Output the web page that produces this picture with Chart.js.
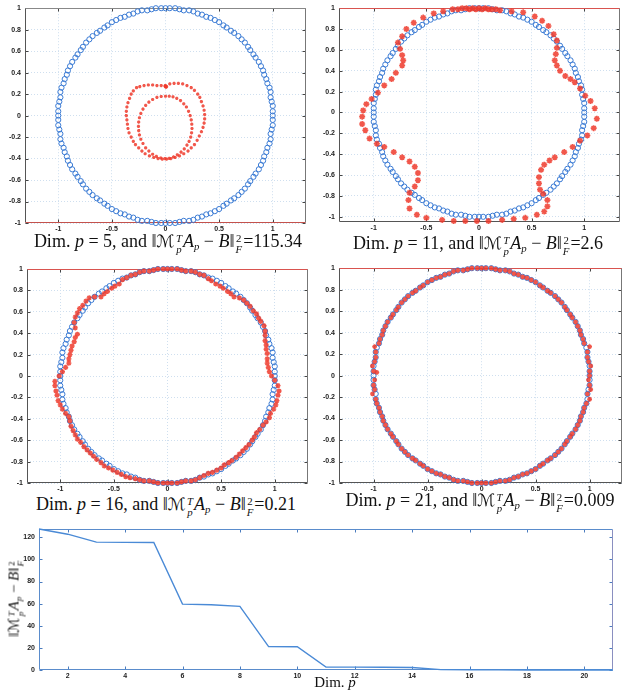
<!DOCTYPE html>
<html>
<head>
<meta charset="utf-8">
<title>Dim. p</title>
<script src="https://cdn.jsdelivr.net/npm/chart.js"></script>
<style>
  body { margin: 0; background: #fff; width: 634px; height: 692px; position: relative; overflow: hidden;
         font-family: "Liberation Serif", "DejaVu Serif", serif; color: #111; }
  canvas { position: absolute; }
  .cap { position: absolute; width: 340px; font-size: 18px; line-height: 20px; text-align: center; white-space: nowrap; }
  .cal { font-family: "DejaVu Serif", "DejaVu Sans", serif; font-size: .95em; }
  .ss { display: inline-flex; flex-direction: column; font-size: .6em; line-height: 1; vertical-align: .45em; margin: 0 1px; }
  sub { font-size: .6em; vertical-align: -.3em; line-height: 0; }
  .ylab { position: absolute; left: -40px; top: 588px; width: 110px; text-align: center; font-size: 15px; line-height: 18px;
          transform: rotate(-90deg); white-space: nowrap; }
  .xlab { position: absolute; left: 285px; top: 674px; width: 100px; text-align: center; font-size: 15px; }
</style>
</head>
<body>
  <canvas id="p5" width="312" height="232" style="left:0;top:0"></canvas>
  <canvas id="p11" width="309" height="231" style="left:317px;top:0"></canvas>
  <canvas id="p16" width="314" height="232" style="left:0;top:260px"></canvas>
  <canvas id="p21" width="311" height="232" style="left:317px;top:260px"></canvas>
  <canvas id="err" width="619" height="160" style="left:0;top:520px"></canvas>

  <div class="cap" style="left:-2px;top:231px">Dim. <i>p</i> = 5, and ‖<i class="cal">ℳ</i><span class="ss"><i>T</i><i>p</i></span><i>A</i><sub><i>p</i></sub> − <i>B</i>‖<span class="ss"><span>2</span><i>F</i></span>=115.34</div>
  <div class="cap" style="left:308px;top:233px">Dim. <i>p</i> = 11, and ‖<i class="cal">ℳ</i><span class="ss"><i>T</i><i>p</i></span><i>A</i><sub><i>p</i></sub> − <i>B</i>‖<span class="ss"><span>2</span><i>F</i></span>=2.6</div>
  <div class="cap" style="left:-4px;top:494px">Dim. <i>p</i> = 16, and ‖<i class="cal">ℳ</i><span class="ss"><i>T</i><i>p</i></span><i>A</i><sub><i>p</i></sub> − <i>B</i>‖<span class="ss"><span>2</span><i>F</i></span>=0.21</div>
  <div class="cap" style="left:310px;top:490px">Dim. <i>p</i> = 21, and ‖<i class="cal">ℳ</i><span class="ss"><i>T</i><i>p</i></span><i>A</i><sub><i>p</i></sub> − <i>B</i>‖<span class="ss"><span>2</span><i>F</i></span>=0.009</div>
  <div class="ylab">‖<i class="cal">ℳ</i><span class="ss"><i>T</i><i>p</i></span><i>A</i><sub><i>p</i></sub> − <i>B</i>‖<span class="ss"><span>2</span><i>F</i></span></div>
  <div class="xlab">Dim. <i>p</i></div>

<script>
// target points (blue circles), same in all four panels
const circleX = [1,1,1,.99,.98,.98,.97,.95,.94,.92,.91,.89,.87,.84,.82,.79,.77,.74,.71,.68,.64,.61,.57,.54,.5,.46,.42,.38,.34,.3,.26,.22,.17,.13,.09,.04,
  0,-.04,-.09,-.13,-.17,-.22,-.26,-.3,-.34,-.38,-.42,-.46,-.5,-.54,-.57,-.61,-.64,-.68,-.71,-.74,-.77,-.79,-.82,-.84,-.87,-.89,-.91,-.92,-.94,-.95,-.97,-.98,-.98,-.99,-1,-1,
  -1,-1,-1,-.99,-.98,-.98,-.97,-.95,-.94,-.92,-.91,-.89,-.87,-.84,-.82,-.79,-.77,-.74,-.71,-.68,-.64,-.61,-.57,-.54,-.5,-.46,-.42,-.38,-.34,-.3,-.26,-.22,-.17,-.13,-.09,-.04,
  0,.04,.09,.13,.17,.22,.26,.3,.34,.38,.42,.46,.5,.54,.57,.61,.64,.68,.71,.74,.77,.79,.82,.84,.87,.89,.91,.92,.94,.95,.97,.98,.98,.99,1,1];
const circleY = [0,.04,.09,.13,.17,.22,.26,.3,.34,.38,.42,.46,.5,.54,.57,.61,.64,.68,.71,.74,.77,.79,.82,.84,.87,.89,.91,.92,.94,.95,.97,.98,.98,.99,1,1,
  1,1,1,.99,.98,.98,.97,.95,.94,.92,.91,.89,.87,.84,.82,.79,.77,.74,.71,.68,.64,.61,.57,.54,.5,.46,.42,.38,.34,.3,.26,.22,.17,.13,.09,.04,
  0,-.04,-.09,-.13,-.17,-.22,-.26,-.3,-.34,-.38,-.42,-.46,-.5,-.54,-.57,-.61,-.64,-.68,-.71,-.74,-.77,-.79,-.82,-.84,-.87,-.89,-.91,-.92,-.94,-.95,-.97,-.98,-.98,-.99,-1,-1,
  -1,-1,-1,-.99,-.98,-.98,-.97,-.95,-.94,-.92,-.91,-.89,-.87,-.84,-.82,-.79,-.77,-.74,-.71,-.68,-.64,-.61,-.57,-.54,-.5,-.46,-.42,-.38,-.34,-.3,-.26,-.22,-.17,-.13,-.09,-.04];

// reconstructions (red stars), p = 5
const red5X = [0,-.04,-.08,-.12,-.16,-.2,-.24,
  -.27,-.3,-.32,-.335,-.35,-.36,-.365,-.365,-.36,-.355,-.35,-.34,-.32,-.3,-.28,-.25,-.22,-.19,-.15,-.11,-.07,-.03,
  .01,.05,.09,.13,.17,.21,.24,.27,.295,.315,.335,.35,.36,.365,.365,.36,.35,.335,.32,.3,.27,.24,.2,.16,.12,.08,.04,
  0,-.04,-.08,-.12,-.155,-.185,-.21,-.23,-.243,-.25,-.252,-.25,-.243,-.23,-.21,-.185,-.155,-.12,-.085,-.045,-.005,
  .035,.075,.11,.145,.175,.2,.22,.235,.243,.247,.245,.24,.23,.215,.195,.17,.14,.105,.07,.035,
  0,.005,-.005,.01];
const red5Y = [.28,.28,.28,.285,.285,.28,.27,
  .26,.23,.2,.16,.12,.08,.04,0,-.04,-.08,-.12,-.16,-.2,-.24,-.27,-.3,-.33,-.355,-.375,-.39,-.4,-.405,
  -.405,-.4,-.39,-.375,-.355,-.33,-.3,-.27,-.23,-.19,-.15,-.11,-.07,-.03,.01,.05,.09,.13,.17,.2,.235,.26,.28,.295,.3,.3,.295,
  .18,.178,.17,.15,.125,.095,.06,.02,-.02,-.06,-.1,-.14,-.18,-.22,-.26,-.3,-.33,-.36,-.38,-.395,-.4,
  -.398,-.385,-.365,-.34,-.31,-.275,-.24,-.2,-.16,-.12,-.08,-.04,0,.04,.08,.11,.14,.16,.175,.18,
  .27,.265,.275,.27];

// p = 11
const red11X = [.31,.42,.53,.6,.66,.71,.74,.74,.73,.72,.74,.77,.82,.87,.91,.96,1.01,1.06,1.1,1.12,
  1.09,1.03,.96,.89,.81,.72,.67,.62,.59,.57,.57,.58,.61,.65,.65,.62,.55,.44,.33,.22,
  .09,-.02,-.13,-.24,-.35,-.5,-.59,-.66,-.67,-.66,-.61,-.58,-.58,-.61,-.66,-.73,-.81,-.9,-.97,-1.04,
  -1.08,-1.11,-1.11,-1.1,-1.07,-1.02,-.96,-.9,-.83,-.79,-.73,-.72,-.73,-.75,-.77,-.73,-.69,-.62,-.53,-.43,
  -.34,-.25,-.2,-.16,-.12,-.09,-.06,-.03,0,.03,.06,.09,.12,.16,.2];
const red11Y = [.97,.96,.92,.88,.83,.75,.69,.62,.56,.5,.45,.4,.35,.32,.29,.23,.16,.11,.04,-.06,
  -.15,-.22,-.27,-.33,-.38,-.43,-.46,-.5,-.55,-.62,-.68,-.74,-.78,-.84,-.9,-.95,-.98,-1.01,-1.02,-1.03,
  -1.04,-1.04,-1.04,-1.04,-1.03,-1.01,-.98,-.92,-.84,-.77,-.71,-.65,-.58,-.52,-.47,-.43,-.38,-.33,-.3,-.25,
  -.17,-.11,-.04,.02,.08,.13,.19,.26,.32,.38,.45,.5,.55,.61,.67,.73,.8,.86,.91,.95,
  .97,.99,.99,1,1,.99,1,.99,1,.99,1,.99,.99,.99,.98];

// p = 16
const red16X = [.97,.95,.94,.93,.93,.93,.92,.92,.91,.91,.91,.9,.87,.85,.83,.8,.77,.74,.71,.67,.62,.59,.56,.52,.49,.45,.41,.38,.34,.3,.26,.22,.17,.13,.09,.04,
  0,-.04,-.09,-.13,-.17,-.22,-.26,-.3,-.34,-.38,-.42,-.45,-.49,-.52,-.56,-.59,-.62,-.68,-.73,-.76,-.79,-.82,-.84,-.86,-.87,-.86,-.84,-.86,-.87,-.89,-.9,-.91,-.92,-.92,-.95,-.98,
  -1.01,-1.05,-1.05,-1.04,-1.03,-1.02,-1,-.98,-.95,-.92,-.91,-.9,-.88,-.86,-.84,-.81,-.78,-.75,-.72,-.69,-.66,-.62,-.59,-.55,-.51,-.47,-.43,-.39,-.35,-.3,-.26,-.22,-.17,-.13,-.09,-.04,
  0,.04,.09,.13,.17,.22,.26,.3,.34,.38,.42,.46,.5,.53,.57,.6,.64,.67,.7,.73,.76,.79,.81,.83,.86,.89,.92,.95,.96,.99,1.01,1.02,1.03,1.04,1.03,1];
const red16Y = [0,.04,.08,.12,.16,.21,.25,.29,.33,.38,.42,.47,.51,.54,.58,.61,.65,.68,.71,.73,.74,.77,.79,.82,.84,.86,.89,.91,.94,.95,.97,.98,.98,.99,1,1,
  1,1,1,.99,.98,.98,.97,.95,.94,.92,.9,.86,.84,.82,.79,.77,.74,.74,.73,.7,.66,.63,.59,.55,.5,.45,.39,.36,.32,.28,.24,.2,.16,.12,.08,.04,
  0,-.05,-.09,-.14,-.18,-.23,-.27,-.31,-.35,-.38,-.42,-.47,-.51,-.55,-.59,-.62,-.66,-.69,-.72,-.75,-.78,-.81,-.84,-.86,-.88,-.9,-.92,-.94,-.95,-.96,-.97,-.98,-.98,-.99,-1,-1,
  -1,-1,-1,-.99,-.98,-.98,-.97,-.95,-.93,-.91,-.9,-.88,-.86,-.83,-.81,-.79,-.76,-.73,-.7,-.67,-.64,-.6,-.57,-.53,-.5,-.46,-.43,-.39,-.35,-.31,-.27,-.23,-.18,-.14,-.09,-.04];

// p = 21
const red21X = [1,1,1.01,.99,.98,.98,1,.95,.94,.92,.91,.89,.87,.84,.82,.79,.77,.74,.71,.68,.64,.61,.57,.54,.5,.46,.42,.38,.34,.3,.26,.22,.17,.13,.09,.04,
  0,-.04,-.09,-.13,-.17,-.22,-.26,-.3,-.34,-.38,-.42,-.46,-.5,-.54,-.57,-.61,-.64,-.68,-.71,-.74,-.77,-.79,-.82,-.84,-.87,-.89,-.91,-.92,-.94,-.95,-.99,-.98,-.98,-.99,-1.01,-1,
  -.97,-.99,-1,-.99,-1.01,-.98,-.97,-.95,-.94,-.92,-.91,-.89,-.87,-.84,-.82,-.79,-.77,-.74,-.71,-.68,-.64,-.61,-.57,-.54,-.5,-.46,-.42,-.38,-.34,-.3,-.26,-.22,-.17,-.13,-.09,-.04,
  0,.04,.09,.13,.17,.22,.26,.3,.34,.38,.42,.46,.5,.54,.57,.61,.64,.68,.71,.74,.77,.79,.82,.84,.87,.89,.91,.92,.94,.95,.97,1,.98,1.01,1,.99];
const red21Y = [0,.04,.09,.13,.17,.22,.27,.3,.34,.38,.42,.46,.5,.54,.57,.61,.64,.68,.71,.74,.77,.79,.82,.84,.87,.89,.91,.92,.94,.95,.97,.98,.98,.99,1,1,
  1,1,1,.99,.98,.98,.97,.95,.94,.92,.91,.89,.87,.84,.82,.79,.77,.74,.71,.68,.64,.61,.57,.54,.5,.46,.42,.38,.34,.3,.27,.22,.17,.13,.09,.04,
  .03,-.04,-.09,-.13,-.17,-.22,-.26,-.3,-.34,-.38,-.42,-.46,-.5,-.54,-.57,-.61,-.64,-.68,-.71,-.74,-.77,-.79,-.82,-.84,-.87,-.89,-.91,-.92,-.94,-.95,-.97,-.98,-.98,-.99,-1,-1,
  -1,-1,-1,-.99,-.98,-.98,-.97,-.95,-.94,-.92,-.91,-.89,-.87,-.84,-.82,-.79,-.77,-.74,-.71,-.68,-.64,-.61,-.57,-.54,-.5,-.46,-.42,-.38,-.34,-.3,-.26,-.22,-.17,-.13,-.09,-.04];

const planeXTicks = [-1, -0.5, 0, 0.5, 1];
const planeYTicks = [-1, -0.8, -0.6, -0.4, -0.2, 0, 0.2, 0.4, 0.6, 0.8, 1];

// error against dimension
const dims = [1,2,3,4,5,6,7,8,9,10,11,12,13,14,15,16,17,18,19,20,21];
const errors = [127.5,122.8,115.6,115.4,115.34,59.6,59,57.5,21.2,21,2.6,2.6,2.5,2.2,0.3,0.21,0.1,0.05,0.02,0.01,0.009];
const dimTicks = [2,4,6,8,10,12,14,16,18,20];
const errTicks = [0,20,40,60,80,100,120];

const blue = '#3b7bd4';
const red = 'rgba(238,58,44,0.85)';

// MATLAB style box with inward ticks
const frame = {
  id: 'frame',
  beforeDatasetsDraw(chart, args, o) {
    const ctx = chart.ctx, a = chart.chartArea;
    const sx = chart.scales.x, sy = chart.scales.y;
    const L = Math.round(a.left) + 0.5, R = Math.round(a.right) - 0.5;
    const T = Math.round(a.top) + 0.5, B = Math.round(a.bottom) - 0.5;
    ctx.save();
    ctx.lineWidth = 1;
    ctx.strokeStyle = o.tick;
    ctx.beginPath();
    sx.ticks.forEach(t => {
      const p = Math.round(sx.getPixelForValue(t.value)) + 0.5;
      ctx.moveTo(p, B); ctx.lineTo(p, B - 3);
      ctx.moveTo(p, T); ctx.lineTo(p, T + 3);
    });
    sy.ticks.forEach(t => {
      const p = Math.round(sy.getPixelForValue(t.value)) + 0.5;
      ctx.moveTo(L, p); ctx.lineTo(L + 3, p);
      ctx.moveTo(R, p); ctx.lineTo(R - 3, p);
    });
    ctx.stroke();
    const side = (c, x1, y1, x2, y2) => {
      ctx.strokeStyle = c;
      ctx.beginPath(); ctx.moveTo(x1, y1); ctx.lineTo(x2, y2); ctx.stroke();
    };
    side(o.left, L, T, L, B);
    side(o.right, R, T, R, B);
    side(o.top, L, T, R, T);
    side(o.bottom, L, B, R, B);
    ctx.restore();
  }
};
Chart.register(frame);
Chart.defaults.font.family = '"Liberation Sans", Arial, sans-serif';

function points(xs, ys) {
  return xs.map((v, i) => ({ x: v, y: ys[i] }));
}

function axis(min, max, ticks, size, isX, grid) {
  return {
    type: 'linear', min: min, max: max,
    afterBuildTicks: s => { s.ticks = ticks.map(v => ({ value: v })); },
    afterFit: s => { if (isX) s.height = size; else s.width = size; },
    grid: { display: grid, color: '#cfdfef', lineWidth: 1, drawTicks: false },
    border: { display: false, dash: [1, 2] },
    ticks: { color: '#222', font: { size: 7, weight: 'bold' }, padding: isX ? 2 : 4,
             maxRotation: 0, autoSkip: false, callback: v => String(v) }
  };
}

function circlePlot(id, rx, ry, starSize, box) {
  new Chart(document.getElementById(id), {
    type: 'scatter',
    data: {
      datasets: [
        { data: points(rx, ry), pointStyle: 'star', pointRadius: starSize, pointBorderColor: red,
          pointBackgroundColor: red, pointBorderWidth: box.starWidth, clip: false },
        { data: points(circleX, circleY), pointStyle: 'circle', pointRadius: 2.6, pointBorderColor: blue,
          pointBackgroundColor: 'rgba(0,0,0,0)', pointBorderWidth: 1, clip: false }
      ]
    },
    options: {
      responsive: false, animation: false, devicePixelRatio: 1,
      layout: { padding: { top: box.top, right: 6, left: 0, bottom: 0 } },
      plugins: { legend: { display: false }, tooltip: { enabled: false },
                 frame: { tick: '#444', left: '#555', bottom: box.bottomColor, top: box.topColor, right: '#777' } },
      scales: {
        x: axis(box.xmin, box.xmax, planeXTicks, 9, true, true),
        y: axis(box.ymin, 1, planeYTicks, box.yw, false, true)
      }
    }
  });
}

circlePlot('p5', red5X, red5Y, 1.6, { top: 8, yw: 25, xmin: -1.31, xmax: 1.31, ymin: -1, starWidth: 1.2, topColor: '#888', bottomColor: '#c4524c' });
circlePlot('p11', red11X, red11Y, 3, { top: 7, yw: 22, xmin: -1.33, xmax: 1.34, ymin: -1.05, starWidth: 1.6, topColor: '#d9534f', bottomColor: '#555' });
circlePlot('p16', red16X, red16Y, 2.6, { top: 9, yw: 27, xmin: -1.31, xmax: 1.31, ymin: -1, starWidth: 1.4, topColor: '#d9534f', bottomColor: '#555' });
circlePlot('p21', red21X, red21Y, 2.4, { top: 7, yw: 22, xmin: -1.32, xmax: 1.3, ymin: -1, starWidth: 1.4, topColor: '#d9534f', bottomColor: '#555' });

new Chart(document.getElementById('err'), {
  type: 'line',
  data: {
    datasets: [{ data: points(dims, errors), borderColor: '#4a8ad6', borderWidth: 1.4,
                 pointRadius: 0, tension: 0, clip: false }]
  },
  options: {
    responsive: false, animation: false, devicePixelRatio: 1,
    layout: { padding: { top: 9, right: 6, left: 0, bottom: 0 } },
    plugins: { legend: { display: false }, tooltip: { enabled: false },
               frame: { tick: '#4a7cbf', left: '#5a8ccc', bottom: '#5a8ccc', top: '#5a8ccc', right: '#8a8fc0' } },
    scales: {
      x: axis(1, 21, dimTicks, 10, true, false),
      y: axis(0, 127.5, errTicks, 39, false, false)
    }
  }
});
</script>
</body>
</html>
